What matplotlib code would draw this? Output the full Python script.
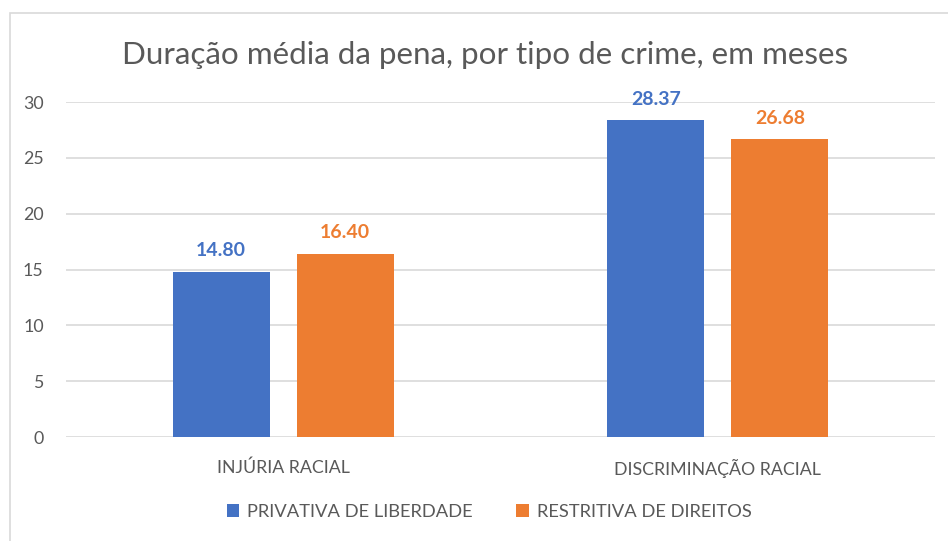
import matplotlib
matplotlib.use("Agg")
import matplotlib.pyplot as plt
from matplotlib.patches import Patch, Rectangle
import numpy as np

# Dados
categorias = ["INJÚRIA RACIAL", "DISCRIMINAÇÃO RACIAL"]
series = ["PRIVATIVA DE LIBERDADE", "RESTRITIVA DE DIREITOS"]
privativa = [14.80, 28.37]
restritiva = [16.40, 26.68]
yticks = [0, 5, 10, 15, 20, 25, 30]

BLUE = "#4472C4"
ORANGE = "#ED7D31"
TEXT = "#595959"
GRID = "#D9D9D9"

plt.rcParams["font.family"] = ["Lato", "DejaVu Sans"]

fig = plt.figure(figsize=(9.48, 5.41), dpi=100)
ax = fig.add_axes([0.0696, 0.1922, 0.9167, 0.6192])

# moldura cinza do gráfico
fig.patches.append(Rectangle((10 / 948, -0.05), 1.0, 1 - 13 / 541 + 0.05,
                             transform=fig.transFigure, fill=False,
                             edgecolor="#D9D9D9", linewidth=1.2))

x = np.arange(len(categorias))
w = 0.223
off = 0.1427
b1 = ax.bar(x - off, privativa, w, color=BLUE, zorder=3)
b2 = ax.bar(x + off, restritiva, w, color=ORANGE, zorder=3)

for bars, vals, col in [(b1, privativa, BLUE), (b2, restritiva, ORANGE)]:
    for rect, v in zip(bars, vals):
        ax.annotate(f"{v:.2f}", (rect.get_x() + rect.get_width() / 2, v),
                    xytext=(0, 9), textcoords="offset points",
                    ha="center", va="bottom", fontsize=14,
                    fontweight="bold", color=col)

ax.set_xlim(-0.5, 1.5)
ax.set_ylim(0, 30)
ax.set_yticks(yticks)
ax.set_xticks(x)
ax.set_xticklabels(categorias)
ax.tick_params(axis="both", length=0, colors=TEXT, labelsize=12.8)
ax.tick_params(axis="y", pad=16)
ax.tick_params(axis="x", pad=16)
ax.grid(axis="y", color=GRID, linewidth=1.2, zorder=0)
for s in ax.spines.values():
    s.set_visible(False)

fig.text(485 / 948, 1 - 55 / 541,
         "Duração média da pena, por tipo de crime, em meses",
         ha="center", va="center", fontsize=22.6, color=TEXT)

handles = [Patch(facecolor=BLUE, label=series[0]),
           Patch(facecolor=ORANGE, label=series[1])]
fig.legend(handles=handles, loc="center", ncol=2,
           bbox_to_anchor=(489 / 948, 1 - 512 / 541), frameon=False,
           fontsize=13.2, labelcolor=TEXT, handlelength=0.7,
           handleheight=0.7, handletextpad=0.4, columnspacing=2.4)

fig.savefig("out.png", dpi=100)
